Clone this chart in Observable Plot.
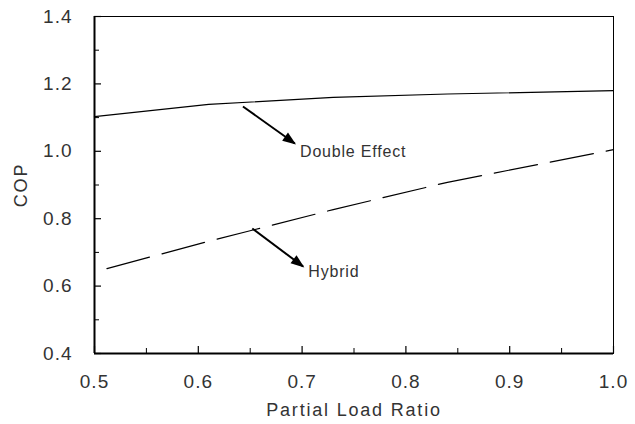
<!DOCTYPE html>
<html>
<head>
<meta charset="utf-8">
<script src="https://cdn.jsdelivr.net/npm/d3@7"></script>
<script src="https://cdn.jsdelivr.net/npm/@observablehq/plot@0.6"></script>
<style>
  body { margin: 0; background: #fff; }
  #chart svg { font-family: "Liberation Sans", Arial, sans-serif; }
</style>
</head>
<body>
<div id="chart"></div>
<script>
// Data
const doubleX = [0.5, 0.61, 0.73, 0.84, 1.0];
const doubleY = [1.103, 1.139, 1.160, 1.170, 1.180];
const hybridX = [0.512, 0.61, 0.73, 0.84, 1.0];
const hybridY = [0.652, 0.733, 0.827, 0.908, 1.005];

const xTicks = [0.5, 0.6, 0.7, 0.8, 0.9, 1.0];
const xMinor = [0.55, 0.65, 0.75, 0.85, 0.95];
const yTicks = [0.4, 0.6, 0.8, 1.0, 1.2, 1.4];
const yMinor = [0.5, 0.7, 0.9, 1.1, 1.3];

const labelNames = ["Double Effect", "Hybrid"];
const labelX = [0.698, 0.706];
const labelY = [0.999, 0.643];
const arrowX1 = [0.643, 0.652];
const arrowY1 = [1.133, 0.771];
const arrowX2 = [0.693, 0.701];
const arrowY2 = [1.023, 0.658];

const doubleData = doubleX.map((x, i) => ({x, y: doubleY[i]}));
const hybridData = hybridX.map((x, i) => ({x, y: hybridY[i]}));
const labels = labelNames.map((t, i) => ({t, x: labelX[i], y: labelY[i]}));
const arrows = arrowX1.map((x1, i) => ({x1, y1: arrowY1[i], x2: arrowX2[i], y2: arrowY2[i]}));

const W = 635, H = 424;
const mL = 94, mR = 22, mT = 16, mB = 71;
const plotW = W - mL - mR, plotH = H - mT - mB;

const chart = Plot.plot({
  width: W,
  height: H,
  marginLeft: mL,
  marginRight: mR,
  marginTop: mT,
  marginBottom: mB,
  x: {domain: [0.5, 1.0]},
  y: {domain: [0.4, 1.4]},
  marks: [
    Plot.frame({stroke: "#000", strokeWidth: 1}),
    Plot.axisX(xTicks, {tickSize: 0, tickPadding: 21, tickFormat: d3.format(".1f"), fontSize: 19, fill: "#333",
      label: "Partial Load Ratio", labelAnchor: "center", labelOffset: 62, labelArrow: "none"}),
    Plot.axisY(yTicks, {tickSize: 0, tickPadding: 22, tickFormat: d3.format(".1f"), fontSize: 19, fill: "#333",
      label: "COP", labelAnchor: "center", labelOffset: 80, labelArrow: "none"}),
    // inward major / minor ticks
    Plot.tickX(xTicks, {x: d => d, insetTop: plotH - 7, stroke: "#000", strokeWidth: 1.2}),
    Plot.tickX(xMinor, {x: d => d, insetTop: plotH - 5, stroke: "#000", strokeWidth: 1}),
    Plot.tickY(yTicks, {y: d => d, insetRight: plotW - 7, stroke: "#000", strokeWidth: 1.2}),
    Plot.tickY(yMinor, {y: d => d, insetRight: plotW - 5, stroke: "#000", strokeWidth: 1}),
    Plot.ruleX([0.5], {stroke: "#000", strokeWidth: 2}),
    Plot.ruleY([0.4], {stroke: "#000", strokeWidth: 2}),
    Plot.line(doubleData, {x: "x", y: "y", stroke: "#000", strokeWidth: 1.2}),
    Plot.line(hybridData, {x: "x", y: "y", stroke: "#000", strokeWidth: 1.2, strokeDasharray: "44,13"}),
    Plot.link(arrows, {x1: "x1", y1: "y1", x2: "x2", y2: "y2", stroke: "#000", strokeWidth: 2, markerEnd: "arrow"}),
    Plot.text(labels, {x: "x", y: "y", text: "t", textAnchor: "start", fontSize: 16, fill: "#333"})
  ]
});

document.getElementById("chart").appendChild(chart);

const svg = d3.select(chart);
// axis label fonts
svg.selectAll("[aria-label='x-axis label'] text, [aria-label='y-axis label'] text")
  .attr("font-size", 18).style("letter-spacing", "1.8px").attr("fill", "#333");
svg.selectAll("[aria-label='x-axis tick label'] text, [aria-label='y-axis tick label'] text")
  .style("letter-spacing", "1px");
svg.selectAll("[aria-label='text'] text").style("letter-spacing", "0.8px");
// filled arrow heads
svg.selectAll("marker")
  .attr("markerUnits", "userSpaceOnUse")
  .attr("viewBox", "-13 -6 15 12")
  .attr("markerWidth", 15)
  .attr("markerHeight", 12)
  .attr("fill", "#000")
  .attr("stroke", "none")
  .selectAll("path")
  .attr("d", "M-12,-5L1.5,0L-12,5Z");
</script>
</body>
</html>
